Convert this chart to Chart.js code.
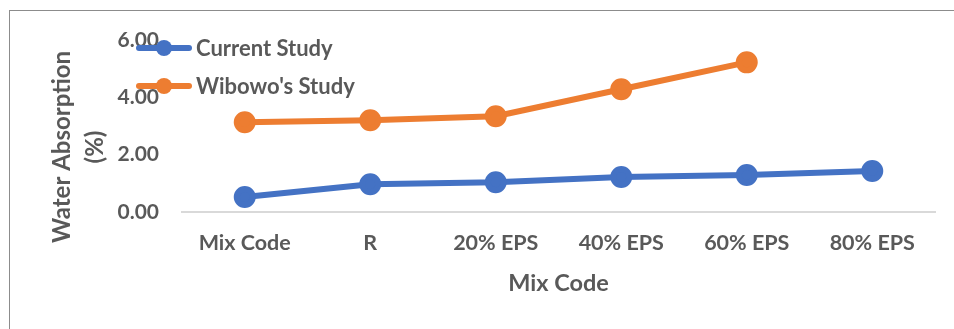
<!DOCTYPE html>
<html>
<head>
<meta charset="utf-8">
<script src="https://cdn.jsdelivr.net/npm/chart.js@4.4.1/dist/chart.umd.min.js"></script>
<style>
  html, body { margin: 0; padding: 0; background: #fff; }
  #wrap { position: relative; width: 954px; height: 329px; }
  #frame { position: absolute; left: 9px; top: 10px; right: -2px; bottom: -2px;
           border-top: 1px solid #8c8c8c; border-left: 1px solid #8c8c8c; pointer-events: none; }
  #legend { position: absolute; left: 136px; top: 35px; font-family: Lato, sans-serif;
            font-weight: bold; font-size: 22px; color: #595959; }
  .item { position: relative; height: 38px; }
  .swatch { position: absolute; left: 0; top: 10px; width: 56px; height: 6px; border-radius: 3px; }
  .dot { position: absolute; left: 20px; top: 5px; width: 16px; height: 16px; border-radius: 50%; }
  .label { position: absolute; left: 60px; top: 0; white-space: nowrap; line-height: 26px; }
</style>
</head>
<body>
<div id="wrap">
  <canvas id="myChart" width="954" height="329"></canvas>
  <div id="frame"></div>
  <div id="legend"></div>
</div>
<script>
var categories = ["Mix Code", "R", "20% EPS", "40% EPS", "60% EPS", "80% EPS"];
var currentStudy = [0.52, 0.97, 1.04, 1.22, 1.29, 1.43];
var wibowoStudy = [3.13, 3.20, 3.34, 4.28, 5.22, null];
var yTicks = [0, 2, 4, 6];

var seriesNames = ["Current Study", "Wibowo's Study"];
var seriesColors = ["#4472C4", "#ED7D31"];
var textColor = "#595959";
var fontFamily = "Lato, sans-serif";

// y title drawn by hand so it can sit a little lower than the plot centre, like the original
const yTitle = {
  id: 'yTitle',
  afterDraw(chart) {
    const ctx = chart.ctx;
    ctx.save();
    ctx.fillStyle = textColor;
    ctx.font = "bold 24px " + fontFamily;
    ctx.textAlign = "center";
    ctx.textBaseline = "middle";
    ctx.translate(62, 147);
    ctx.rotate(-Math.PI / 2);
    ctx.fillText("Water Absorption", 0, 0);
    ctx.fillText("(%)", 0, 33);
    ctx.restore();
  }
};

const CHART = document.getElementById("myChart");
let myChart = new Chart(CHART, {
  type: 'line',
  data: {
    labels: categories,
    datasets: [{
      label: seriesNames[0],
      data: currentStudy,
      borderColor: seriesColors[0],
      backgroundColor: seriesColors[0],
      borderWidth: 6,
      pointRadius: 8,
      pointHoverRadius: 8,
      tension: 0
    }, {
      label: seriesNames[1],
      data: wibowoStudy,
      borderColor: seriesColors[1],
      backgroundColor: seriesColors[1],
      borderWidth: 6,
      pointRadius: 8,
      pointHoverRadius: 8,
      tension: 0
    }]
  },
  options: {
    responsive: false,
    animation: false,
    layout: { padding: { left: 0, top: 40, right: 19, bottom: 0 } },
    plugins: { legend: { display: false }, tooltip: { enabled: false } },
    scales: {
      x: {
        offset: true,
        grid: { display: false, drawTicks: false },
        border: { display: true, color: "#d9d9d9", width: 2 },
        ticks: { color: textColor, padding: 18, maxRotation: 0, autoSkip: false,
                 font: { family: fontFamily, size: 21.5, weight: 'bold' } },
        title: { display: true, text: "Mix Code", color: textColor,
                 padding: { top: 0, bottom: 31 },
                 font: { family: fontFamily, size: 23.5, weight: 'bold' } },
        afterFit: s => { s.height = 117; }
      },
      y: {
        min: 0,
        max: 6,
        grid: { display: false, drawTicks: false },
        border: { display: false },
        afterBuildTicks: s => { s.ticks = yTicks.map(v => ({ value: v })); },
        ticks: { color: textColor, padding: 23,
                 font: { family: fontFamily, size: 21, weight: 'bold' },
                 callback: v => Number(v).toFixed(2) },
        afterFit: s => { s.width = 182; }
      }
    }
  },
  plugins: [yTitle]
});

// legend as html, overlapping the plot like the original
var legend = document.getElementById("legend");
seriesNames.forEach((name, i) => {
  var item = document.createElement("div");
  item.className = "item";
  item.innerHTML = '<div class="swatch" style="background:' + seriesColors[i] + '"></div>' +
    '<div class="dot" style="background:' + seriesColors[i] + '"></div>' +
    '<div class="label">' + name + '</div>';
  legend.appendChild(item);
});
</script>
</body>
</html>
